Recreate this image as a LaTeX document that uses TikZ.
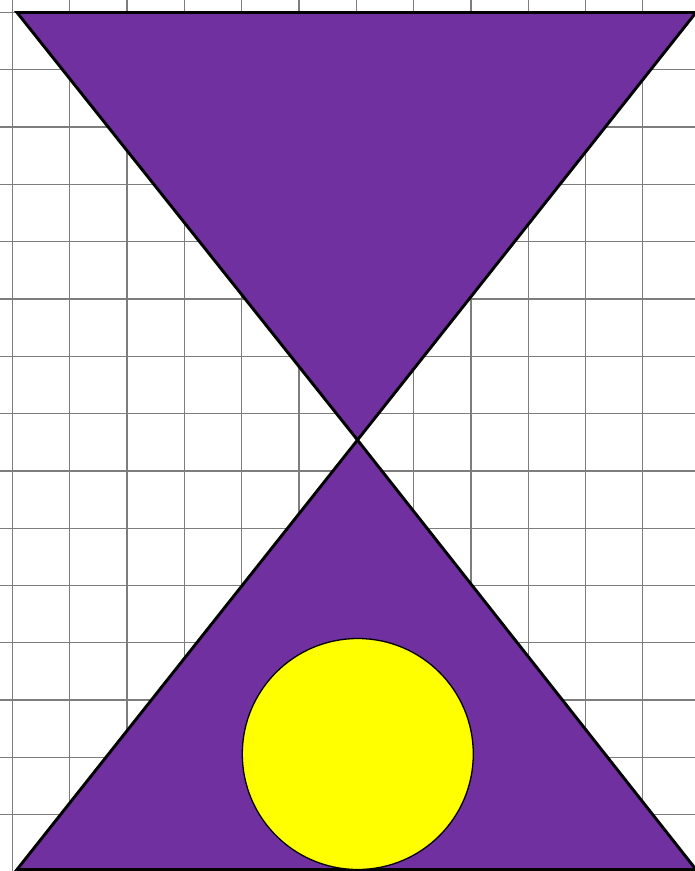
\documentclass[tikz,border=0pt]{standalone}
\definecolor{hgpurple}{RGB}{112,48,160}
\definecolor{gridgray}{RGB}{125,125,125}
\definecolor{discyellow}{RGB}{255,255,0}
\tikzset{
  gridline/.style={draw=gridgray, line width=1.3pt},
  purpletri/.style={fill=hgpurple, draw=black, line width=2.9pt, line join=miter},
  yellowdisc/.style={fill=discyellow, draw=black, line width=1.3pt}
}
\begin{document}
\begin{tikzpicture}[x=1pt,y=-1pt]
\useasboundingbox (0,0) rectangle (695,871);
\fill[white] (0,0) rectangle (695,871);
\foreach \k in {0,...,11} {
  \draw[gridline] ({12.5+57.3*\k},0) -- ({12.5+57.3*\k},871);
}
\foreach \k in {0,...,14} {
  \draw[gridline] (0,{12.5+57.3*\k}) -- (695,{12.5+57.3*\k});
}
\coordinate (tl) at (17,12.5);
\coordinate (tr) at (696,12.5);
\coordinate (mid) at (357.5,440);
\coordinate (bl) at (17,869.5);
\coordinate (br) at (696,869.5);
\draw[purpletri] (tl) -- (tr) -- (mid) -- cycle;
\draw[purpletri] (mid) -- (bl) -- (br) -- cycle;
\draw[yellowdisc] (357.8,754) circle (115.5);
\end{tikzpicture}
\end{document}
